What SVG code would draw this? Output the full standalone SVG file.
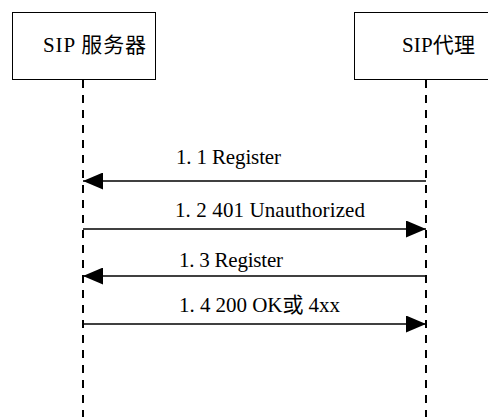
<svg xmlns="http://www.w3.org/2000/svg" width="488" height="417" viewBox="0 0 488 417">
<style>
.box{fill:#fff;stroke:#000;stroke-width:1}
.life{stroke:#000;stroke-width:2;stroke-dasharray:8 7;fill:none}
.msg{stroke:#000;stroke-width:1.3;fill:none}
</style>
<defs>
<marker id="ah" viewBox="0 0 20 17" refX="20" refY="8.5" markerWidth="20" markerHeight="17" markerUnits="userSpaceOnUse" orient="auto">
<path d="M0,0 L20,8.5 L0,17 Z" fill="#000"/>
</marker>
</defs>
<g font-family="Liberation Serif, Noto Sans CJK SC, serif" font-size="21" fill="#000">
<g id="server">
<rect class="box" x="12.5" y="12.5" width="143" height="67"/>
<text x="43" y="52" textLength="103" lengthAdjust="spacing">SIP 服务器</text>
</g>
<g id="proxy">
<rect class="box" x="354.5" y="12.5" width="140" height="67"/>
<text x="402" y="52" textLength="73" lengthAdjust="spacing">SIP代理</text>
</g>
<g id="connectors">
<line class="life" x1="83" y1="80" x2="83" y2="417"/>
<line class="life" x1="426" y1="80" x2="426" y2="417"/>
<line class="msg" x1="426" y1="181" x2="83" y2="181" marker-end="url(#ah)"/>
<line class="msg" x1="83" y1="229" x2="426" y2="229" marker-end="url(#ah)"/>
<line class="msg" x1="426" y1="276" x2="83" y2="276" marker-end="url(#ah)"/>
<line class="msg" x1="83" y1="324" x2="426" y2="324" marker-end="url(#ah)"/>
<text x="176" y="164" textLength="105" lengthAdjust="spacing">1. 1 Register</text>
<text x="175" y="217" textLength="190" lengthAdjust="spacing">1. 2 401 Unauthorized</text>
<text x="179" y="267" textLength="104" lengthAdjust="spacing">1. 3 Register</text>
<text x="179" y="312" textLength="161" lengthAdjust="spacing">1. 4 200 OK或 4xx</text>
</g>
</g>
</svg>
